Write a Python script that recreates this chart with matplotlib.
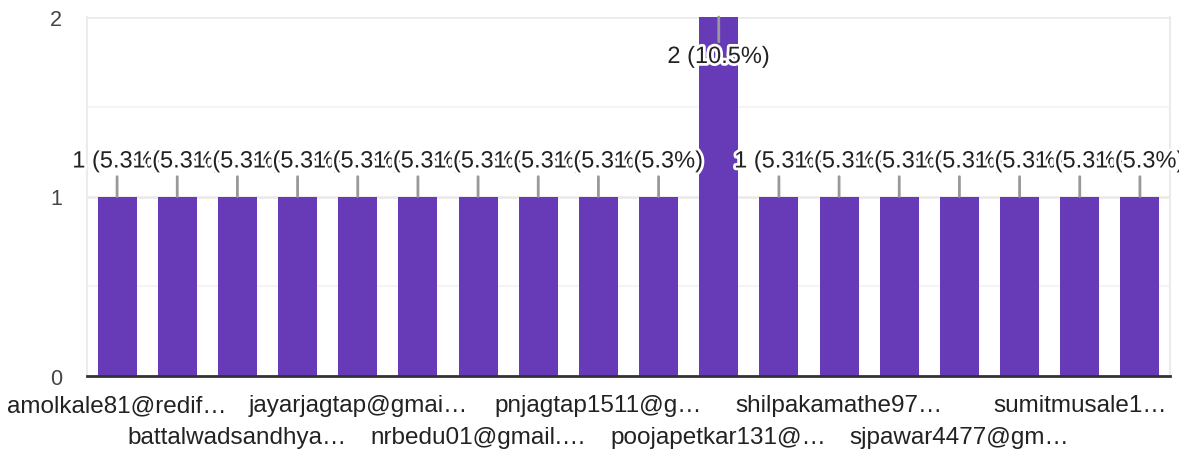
import matplotlib.pyplot as plt
import matplotlib.patheffects as pe

plt.rcParams['font.family'] = ['Liberation Sans', 'DejaVu Sans']

# Responses per e-mail address (labels are truncated as in the form summary;
# the hidden ones in between are unknown and left blank)
emails = ['amolkale81@redif…', '', 'battalwadsandhya…', '', 'jayarjagtap@gmai…', '',
          'nrbedu01@gmail.…', '', 'pnjagtap1511@g…', '', 'poojapetkar131@…', '',
          'shilpakamathe97…', '', 'sjpawar4477@gm…', '', 'sumitmusale1…', '']
counts = [1, 1, 1, 1, 1, 1, 1, 1, 1, 1, 2, 1, 1, 1, 1, 1, 1, 1]

purple = '#673ab7'
total = sum(counts)
x = list(range(len(counts)))

fig = plt.figure(figsize=(11.79, 4.52), dpi=100)
ax = fig.add_axes([87 / 1179, 75 / 452, 1083 / 1179, 359 / 452])

ax.bar(x, counts, width=0.65, color=purple, zorder=2)
ax.set_xlim(-0.5, len(counts) - 0.5)
ax.set_ylim(0, max(counts))

# gridlines
ax.set_yticks([0, 1, 2])
ax.set_yticks([0.5, 1.5], minor=True)
ax.grid(axis='y', which='major', color='#ebebeb', linewidth=2, zorder=0)
ax.grid(axis='y', which='minor', color='#f5f5f5', linewidth=1.5, zorder=0)
ax.tick_params(axis='y', which='major', length=0, labelsize=15.5, labelcolor='#444444', pad=18)
ax.tick_params(axis='y', which='minor', length=0)
ax.spines['top'].set_visible(False)
ax.spines['left'].set_color('#ebebeb')
ax.spines['right'].set_color('#ebebeb')
ax.spines['left'].set_linewidth(1.5)
ax.spines['right'].set_linewidth(1.5)
ax.spines['bottom'].set_color('#333333')
ax.spines['bottom'].set_linewidth(2)
ax.spines['bottom'].set_zorder(5)

# x labels in two staggered rows, every second label shown
ax.set_xticks(x)
ax.set_xticklabels(emails, fontsize=17.5, color='#222222')
ax.tick_params(axis='x', length=0, pad=13)
for i, t in enumerate(ax.xaxis.get_major_ticks()):
    if i % 4 == 2:
        t.set_pad(36)

# value labels with leader lines
for xi, v in zip(x, counts):
    txt = f'{v} ({v / total * 100:.1f}%)'
    off = -40 if v == max(counts) else 35
    ax.annotate(txt, xy=(xi, v), xytext=(0, off), textcoords='offset pixels',
                ha='center', va='center', fontsize=17, color='#222222',
                annotation_clip=False, zorder=4,
                path_effects=[pe.withStroke(linewidth=4, foreground='white')],
                arrowprops=dict(arrowstyle='-', color='#999999', lw=2,
                                shrinkA=1, shrinkB=0))

fig.savefig('out.png', dpi=100)
